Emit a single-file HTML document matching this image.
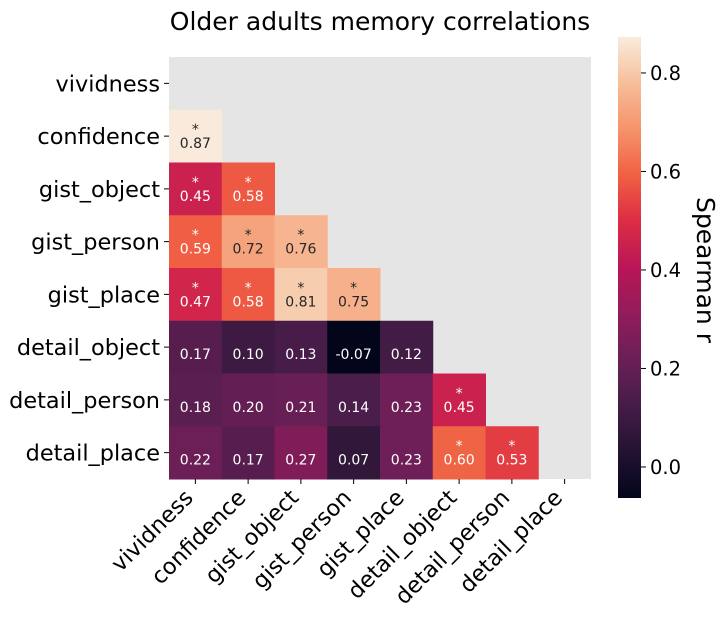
<!DOCTYPE html>
<html><head><meta charset="utf-8"><style>body{margin:0;background:#fff}svg{display:block;font-family:"DejaVu Sans","Liberation Sans",sans-serif}</style></head>
<body>
<svg id="chart" width="726" height="621" xmlns="http://www.w3.org/2000/svg">
<defs><linearGradient id="cbg" x1="0" y1="1" x2="0" y2="0"></linearGradient></defs>
<text x="380" y="30" font-size="25" text-anchor="middle">Older adults memory correlations</text>
<rect x="169" y="57" width="422" height="422" fill="#e5e5e5"/>
<g id="cells"></g><g id="labels"></g>
<rect x="618" y="37" width="23" height="461" fill="url(#cbg)"/>
<g id="cbticks"></g>
<text transform="translate(697,270) rotate(90)" font-size="25" text-anchor="middle">Spearman r</text>
</svg>
<script>
const categories=["vividness","confidence","gist_object","gist_person","gist_place","detail_object","detail_person","detail_place"];
const rowValues=[
[],
[0.87],
[0.45,0.58],
[0.59,0.72,0.76],
[0.47,0.58,0.81,0.75],
[0.17,0.10,0.13,-0.07,0.12],
[0.18,0.20,0.21,0.14,0.23,0.45],
[0.22,0.17,0.27,0.07,0.23,0.60,0.53]];
const rowSig=[[],[1],[1,1],[1,1,1],[1,1,1,1],[0,0,0,0,0],[0,0,0,0,0,1],[0,0,0,0,0,1,1]];
const cbTicks=[0.0,0.2,0.4,0.6,0.8];
const vmin=-0.063,vmax=0.873;
const stops=["#03051A","#221331","#451C47","#6A1F56","#921C5B","#B91657","#DD2C45","#F06043","#F5936A","#F6BE9A","#FAEBDD"];
function hex(h){return [1,3,5].map(i=>parseInt(h.substr(i,2),16));}
function cmap(v){let t=Math.max(0,Math.min(1,(v-vmin)/(vmax-vmin)))*10;let i=Math.min(9,Math.floor(t)),f=t-i;const a=hex(stops[i]),b=hex(stops[i+1]);return "rgb("+a.map((x,k)=>Math.round(x+(b[k]-x)*f)).join(",")+")";}
const X0=169,Y0=57,CS=52.75,NS="http://www.w3.org/2000/svg";
const xs=i=>X0+i*CS, ys=i=>Y0+i*CS;
function el(t,a,p,txt){const e=document.createElementNS(NS,t);for(const k in a)e.setAttribute(k,a[k]);if(txt!==undefined)e.textContent=txt;p.appendChild(e);return e;}
const cells=document.getElementById('cells'),labels=document.getElementById('labels');
rowValues.forEach((row,r)=>row.forEach((v,c)=>{
 const rc=el('rect',{x:xs(c),y:ys(r),width:CS+0.5,height:CS+0.5,fill:cmap(v)},cells);
 
 
 const col=v>0.65?"#262626":"#ffffff";
 const cx=xs(c)+CS/2,cy=ys(r)+CS/2;
 if(rowSig[r][c]){const s=el('text',{x:cx,y:cy-2,'font-size':14,'text-anchor':'middle',fill:col},cells,'*');
  
  }
 const t=el('text',{x:cx,y:cy+12,'font-size':14,'text-anchor':'middle',fill:col},cells,v.toFixed(2));
 
 
}));
categories.forEach((n,i)=>{
 const cy=ys(i)+CS/2;
 el('line',{x1:164,x2:169,y1:cy,y2:cy,stroke:"#000"},labels);
 const t=el('text',{x:160,y:cy+8,'font-size':22.4,'text-anchor':'end'},labels,n);
 
 
 const cx=xs(i)+CS/2;
 el('line',{x1:cx,x2:cx,y1:479,y2:484,stroke:"#000"},labels);
 const u=el('text',{'font-size':22.4,'text-anchor':'end',transform:`translate(${cx-1},${499}) rotate(-45)`},labels,n);
 
 
});
const g=document.getElementById('cbg');
for(let i=0;i<=20;i++){const v=vmin+(vmax-vmin)*i/20;el('stop',{offset:(i*5)+'%','stop-color':cmap(v)},g);}
const cbt=document.getElementById('cbticks');
const cy=v=>498-(v-vmin)/(vmax-vmin)*461;
cbTicks.forEach(v=>{el('line',{x1:641,x2:646,y1:cy(v),y2:cy(v),stroke:"#000"},cbt);
 const t=el('text',{x:650,y:cy(v)+7,'font-size':19.5},cbt,v.toFixed(1));
 
 });
</script>
</body></html>
